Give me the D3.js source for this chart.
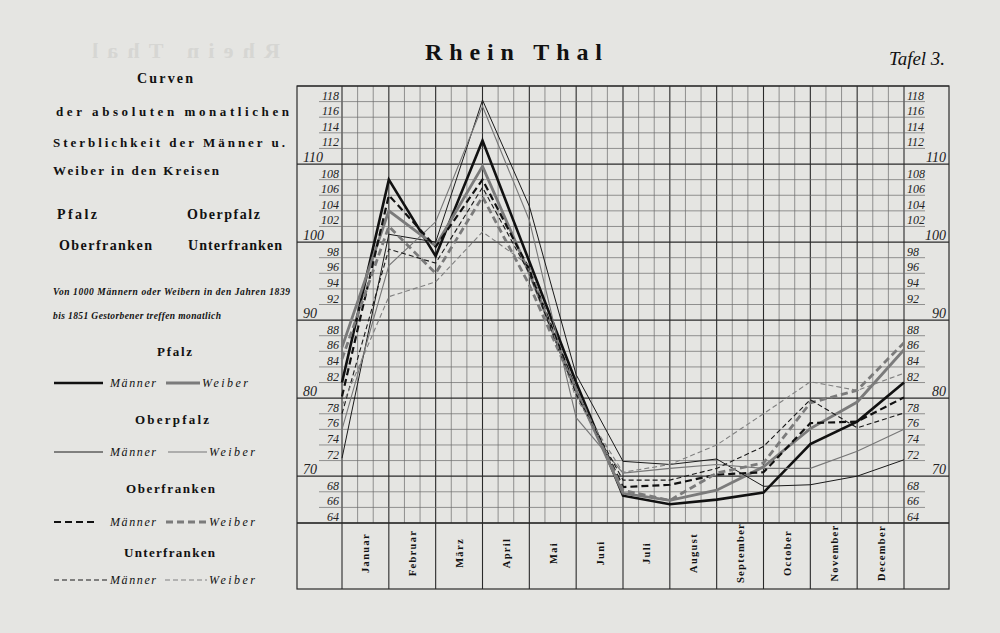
<!DOCTYPE html>
<html><head><meta charset="utf-8">
<script src="https://cdn.jsdelivr.net/npm/d3@7"></script>
<style>body{margin:0;background:#e5e5e2;} svg{display:block}</style>
</head><body><svg id="c" width="1000" height="633"></svg>
<script>
// ---------- data ----------
const months = ["Januar","Februar","März","April","Mai","Juni","Juli","August","September","October","November","December"];
// values are plotted on the 13 column boundaries (start of Januar .. end of December)
const boundaries = [0,1,2,3,4,5,6,7,8,9,10,11,12];
const pfalzMaenner       = [82.0,108.0, 98.2,113.0, 97.5, 82.0, 67.5, 66.4, 67.0, 67.9, 74.1, 77.0, 82.0];
const pfalzWeiber        = [86.5,104.0, 99.5,109.7, 96.0, 81.0, 67.8, 66.9, 68.2, 71.2, 76.1, 79.5, 86.2];
const oberpfalzMaenner   = [72.3,101.0,100.0,118.2,104.6, 83.0, 71.9, 71.5, 72.2, 68.7, 68.9, 70.0, 72.1];
const oberpfalzWeiber    = [76.0, 97.0,102.6,117.4,102.8, 77.5, 70.4, 71.0, 71.5, 71.0, 71.0, 73.2, 76.0];
const oberfrankenMaenner = [80.2,106.0, 99.4,108.0, 96.5, 81.0, 68.6, 68.9, 70.2, 70.5, 76.8, 77.0, 80.1];
const oberfrankenWeiber  = [85.0,102.0, 96.0,105.8, 94.5, 81.0, 68.2, 66.9, 70.4, 71.7, 79.4, 81.0, 87.1];
const unterfrankenMaenner= [78.0, 99.1, 97.3,107.0, 96.0, 80.5, 69.5, 69.5, 71.0, 73.8, 79.8, 76.2, 78.1];
const unterfrankenWeiber = [79.0, 93.0, 94.9,101.3, 97.0, 80.0, 70.5, 71.5, 74.0, 78.0, 82.1, 81.0, 83.2];
const majorTicks = [70,80,90,100,110];
const minorTicks = [64,66,68,72,74,76,78,82,84,86,88,92,94,96,98,102,104,106,108,112,114,116,118];

const series = [
  {name:"Pfalz Männer", values:pfalzMaenner, color:"#111", width:2.6, dash:null},
  {name:"Pfalz Weiber", values:pfalzWeiber, color:"#7b7b7b", width:2.8, dash:null},
  {name:"Oberpfalz Männer", values:oberpfalzMaenner, color:"#1a1a1a", width:1.0, dash:null},
  {name:"Oberpfalz Weiber", values:oberpfalzWeiber, color:"#777", width:1.1, dash:null},
  {name:"Oberfranken Männer", values:oberfrankenMaenner, color:"#111", width:2.2, dash:"7,4"},
  {name:"Oberfranken Weiber", values:oberfrankenWeiber, color:"#7b7b7b", width:2.8, dash:"7,4"},
  {name:"Unterfranken Männer", values:unterfrankenMaenner, color:"#1a1a1a", width:1.1, dash:"5,3"},
  {name:"Unterfranken Weiber", values:unterfrankenWeiber, color:"#808080", width:1.1, dash:"5,3"}
];

// ---------- scales ----------
const svg = d3.select("#c");
const x0 = 342, x1 = 904, yTop = 86, yBot = 523;
const x = d3.scaleLinear().domain([0,12]).range([x0,x1]);
const band = d3.scaleBand().domain(months).range([x0,x1]);
const y = d3.scaleLinear().domain([64,120]).range([yBot,yTop]);
const leftEdge = 297, rightEdge = 949, rowBot = 589;

svg.append("rect").attr("width",1000).attr("height",633).attr("fill","#e5e5e2");

// faint show-through of the reverse page title
svg.append("text").attr("transform","translate(280,58) scale(-1,1)")
  .attr("font-family","Liberation Serif, serif").attr("font-weight","bold").attr("font-size",22)
  .attr("textLength",188).attr("lengthAdjust","spacing").attr("fill","#d6d6d3").text("Rhein Thal");

const grid = svg.append("g");
const subs = d3.range(0,36.01,1);
grid.selectAll(".vm").data(subs).join("line")
  .attr("x1",d=>x(d/3)).attr("x2",d=>x(d/3)).attr("y1",yTop).attr("y2",yBot)
  .attr("stroke",d=>d%3===0?"#2a2a2a":"#6a6a6a").attr("stroke-width",d=>d%3===0?1.1:0.7);
grid.selectAll(".vb").data(boundaries).join("line")
  .attr("x1",d=>x(d)).attr("x2",d=>x(d)).attr("y1",yBot).attr("y2",rowBot)
  .attr("stroke","#2a2a2a").attr("stroke-width",1.1);
const evens = d3.range(64,120.1,2);
grid.selectAll(".hm").data(evens).join("line")
  .attr("x1",d=>(d%10===0||d===64||d===120)?leftEdge:leftEdge+22)
  .attr("x2",d=>(d%10===0||d===64||d===120)?rightEdge:rightEdge-24)
  .attr("y1",d=>y(d)).attr("y2",d=>y(d))
  .attr("stroke",d=>d%10===0?"#2a2a2a":"#6a6a6a").attr("stroke-width",d=>d%10===0?1.2:0.7);
grid.append("rect").attr("x",leftEdge).attr("y",yTop).attr("width",rightEdge-leftEdge).attr("height",rowBot-yTop)
  .attr("fill","none").attr("stroke","#2a2a2a").attr("stroke-width",1.2);
grid.append("line").attr("x1",leftEdge).attr("x2",rightEdge).attr("y1",yBot).attr("y2",yBot).attr("stroke","#222").attr("stroke-width",1.3);

// y labels
const lab = svg.append("g").attr("font-family","Liberation Serif, serif").attr("font-style","italic").attr("fill","#222");
lab.selectAll(".ml").data(minorTicks).join("text")
  .attr("x",x0-3).attr("y",d=>y(d)-2).attr("text-anchor","end").attr("font-size",12).text(d=>d);
lab.selectAll(".mr").data(minorTicks).join("text")
  .attr("x",x1+3).attr("y",d=>y(d)-2).attr("text-anchor","start").attr("font-size",12).text(d=>d);
lab.selectAll(".Ml").data(majorTicks).join("text")
  .attr("x",leftEdge+6).attr("y",d=>y(d)-2).attr("text-anchor","start").attr("font-size",14).text(d=>d);
lab.selectAll(".Mr").data(majorTicks).join("text")
  .attr("x",rightEdge-3).attr("y",d=>y(d)-2).attr("text-anchor","end").attr("font-size",14).text(d=>d);

// month labels
svg.append("g").selectAll("text").data(months).join("text")
  .attr("transform",d=>`translate(${band(d)+band.bandwidth()/2+4},553) rotate(-90)`)
  .attr("text-anchor","middle").attr("font-family","Liberation Serif, serif").attr("font-weight","bold")
  .attr("font-size",10.5).attr("letter-spacing",1.3).attr("fill","#111").text(d=>d);

// curves
const line = d3.line().x((d,i)=>x(boundaries[i])).y(d=>y(d));
svg.append("g").selectAll("path").data(series).join("path")
  .attr("d",d=>line(d.values)).attr("fill","none")
  .attr("stroke",d=>d.color).attr("stroke-width",d=>d.width)
  .attr("stroke-dasharray",d=>d.dash).attr("stroke-linejoin","miter");

// titles
const T = svg.append("g").attr("font-family","Liberation Serif, serif").attr("fill","#111");
T.append("text").attr("x",425).attr("y",60).attr("font-size",24).attr("font-weight","bold")
  .attr("textLength",177).attr("lengthAdjust","spacing").text("Rhein Thal");
T.append("text").attr("x",889).attr("y",65).attr("font-size",19).attr("font-style","italic")
  .attr("textLength",56).attr("lengthAdjust","spacingAndGlyphs").text("Tafel 3.");

function t(txt,xx,yy,w,size,opts={}){
  const e=T.append("text").attr("x",xx).attr("y",yy).attr("font-size",size).attr("font-weight",opts.weight||"bold")
   .attr("textLength",w).attr("lengthAdjust","spacing").text(txt);
  if(opts.italic) e.attr("font-style","italic");
  return e;
}
t("Curven",137,83,56,14);
t("der absoluten monatlichen",56,116,233,13);
t("Sterblichkeit der Männer u.",53,147,232,13);
t("Weiber in den Kreisen",53,175,166,13);
t("Pfalz",57,219,40,14);
t("Oberpfalz",187,219,73,14);
t("Oberfranken",59,250,93,14);
t("Unterfranken",188,250,94,14);
t("Von 1000 Männern oder Weibern in den Jahren 1839",53,295,237,9.5,{italic:true});
t("bis 1851 Gestorbener treffen monatlich",53,319,168,9.5,{italic:true});

// legend
const leg = [
  {title:"Pfalz", ty:356, tx:157, tw:35, ly:383, m:series[0], w:series[1], ml:[54,103], wl:[166,200]},
  {title:"Oberpfalz", ty:424, tx:135, tw:74, ly:452, m:series[2], w:series[3], ml:[54,103], wl:[168,207]},
  {title:"Oberfranken", ty:493, tx:126, tw:89, ly:522, m:series[4], w:series[5], ml:[54,97], wl:[166,207]},
  {title:"Unterfranken", ty:557, tx:124, tw:91, ly:580, m:series[6], w:series[7], ml:[54,108], wl:[165,207]}
];
leg.forEach(g=>{
  t(g.title,g.tx,g.ty,g.tw,13);
  [[g.m,g.ml,"Männer",110],[g.w,g.wl,"Weiber",g.wl[1]+2]].forEach(([s,l,lbl,lx])=>{
    svg.append("line").attr("x1",l[0]).attr("x2",l[1]).attr("y1",g.ly).attr("y2",g.ly)
      .attr("stroke",s.color).attr("stroke-width",s.width).attr("stroke-dasharray",s.dash);
    t(lbl,lx,g.ly+4,46,12,{weight:"normal"}).attr("font-style","italic");
  });
});
</script></body></html>
